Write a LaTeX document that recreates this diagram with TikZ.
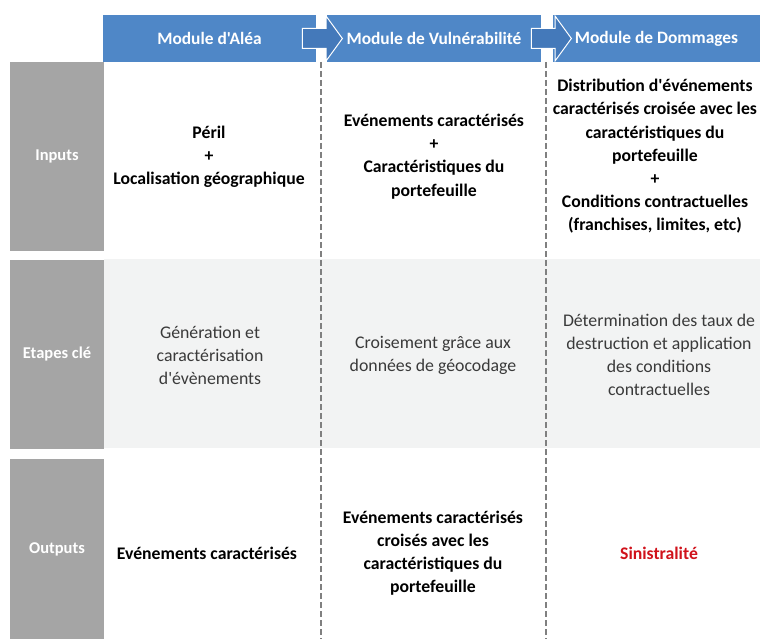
\documentclass[tikz,border=0pt]{standalone}
\usepackage{fontspec}
\setmainfont{Carlito}[Ligatures=TeXOff]
\usetikzlibrary{shapes.arrows}
\definecolor{HeadBlue}{HTML}{4F87C7}
\definecolor{ArrowBlue}{HTML}{4479BA}
\definecolor{LabelGray}{HTML}{A5A5A5}
\definecolor{BandGray}{HTML}{F2F3F3}
\definecolor{SepGray}{HTML}{808080}
\definecolor{StepText}{HTML}{3A3A3A}
\definecolor{LossRed}{HTML}{D0121B}

\begin{document}
\begin{tikzpicture}[x=1pt,y=-1pt,
    headbox/.style={fill=HeadBlue,text=white,minimum height=47pt,inner sep=0pt,
      font=\fontsize{17.4}{20}\selectfont\bfseries},
    rowlabel/.style={fill=LabelGray,text=white,minimum width=94pt,inner sep=0pt,
      font=\fontsize{16.5}{20}\selectfont\bfseries},
    cellbold/.style={align=center,font=\fontsize{17.7}{23.2}\selectfont\bfseries},
    cellplain/.style={align=center,text=StepText,font=\fontsize{17.8}{23}\selectfont},
    flowarrow/.style={single arrow,fill=ArrowBlue,draw=white,line width=1pt,
      minimum height=40pt,inner xsep=0pt,inner ysep=9.5pt,
      single arrow head extend=12.5pt,single arrow tip angle=108},
    sepline/.style={SepGray,line width=1.3pt,dash pattern=on 6pt off 3pt}]
  \useasboundingbox (0,0) rectangle (760,639);

  % bande grise des etapes
  \fill[BandGray] (104,259) rectangle (760,448);
  \draw[sepline] (321,62)--(321,639);
  \draw[sepline] (546,62)--(546,639);

  % en-tetes des modules
  \node[headbox,minimum width=213pt] (aleaHead) at (209.5,38.5) {Module d'Aléa};
  \node[headbox,minimum width=213.5pt] (vulnHead) at (434,38.5) {Module de Vulnérabilité};
  \node[headbox,minimum width=207pt] (dmgHead) at (656.5,38.5) {Module de Dommages};
  \node[flowarrow,anchor=tip] (arrAV) at (343,38.5) {};
  \node[flowarrow,anchor=tip] (arrVD) at (572,38.5) {};

  \foreach \y/\h/\lab/\nm in {
    156.5/189/Inputs/lblIn,354.5/189/Etapes clé/lblStep,549.5/181/Outputs/lblOut}
    \node[rowlabel,minimum height=\h pt] (\nm) at (57,\y) {\lab};

  % inputs
  \node[cellbold] (inAlea) at (209,156.5)
    {Péril\\+\\Localisation géographique};
  \node[cellbold] (inVuln) at (434,156.5)
    {Evénements caractérisés\\+\\Caractéristiques du\\portefeuille};
  \node[cellbold] (inDmg) at (655,156.5)
    {Distribution d'événements\\caractérisés croisée avec les\\caractéristiques du\\portefeuille\\+\\Conditions contractuelles\\(franchises, limites, etc)};

  % etapes cle
  \node[cellplain] (stepAlea) at (210,355)
    {Génération et\\caractérisation\\d'évènements};
  \node[cellplain] (stepVuln) at (433,355)
    {Croisement grâce aux\\données de géocodage};
  \node[cellplain] (stepDmg) at (659,355)
    {Détermination des taux de\\destruction et application\\des conditions\\contractuelles};

  % outputs
  \node[cellbold] (outAlea) at (207,553) {Evénements caractérisés};
  \node[cellbold] (outVuln) at (433,553)
    {Evénements caractérisés\\croisés avec les\\caractéristiques du\\portefeuille};
  \node[cellbold,text=LossRed] (outDmg) at (659,553) {Sinistralité};
\end{tikzpicture}
\end{document}
